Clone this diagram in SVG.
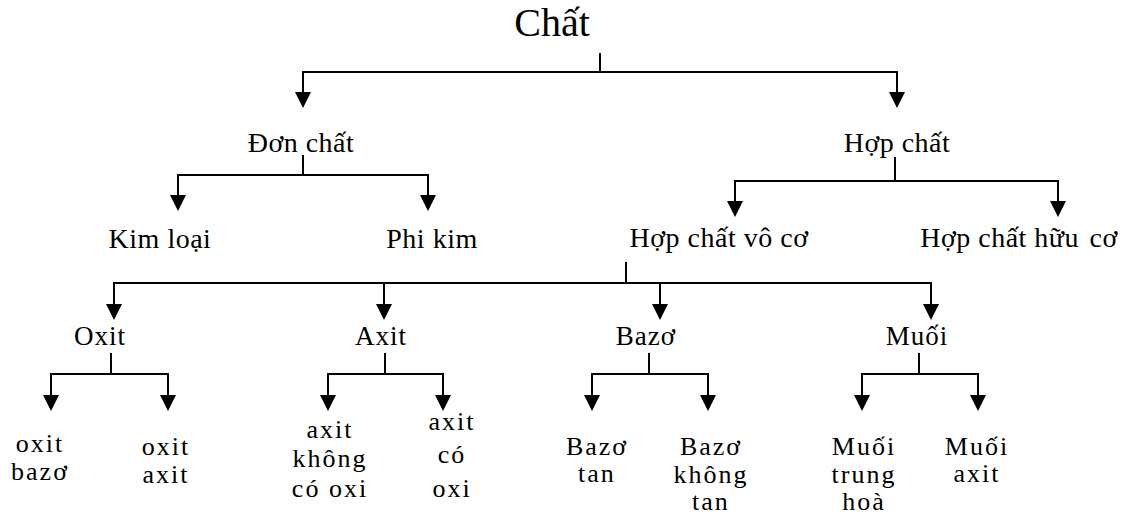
<svg xmlns="http://www.w3.org/2000/svg" width="1123" height="518" viewBox="0 0 1123 518">
  <defs>
    <marker id="arrow" viewBox="0 0 16 16" refX="0" refY="8" markerWidth="16" markerHeight="16" markerUnits="userSpaceOnUse" orient="auto">
      <path d="M0,0 L16,8 L0,16 Z" fill="#000"/>
    </marker>
    <style>
      text { font-family: "Liberation Serif", "Times New Roman", serif; fill: #000; text-anchor: middle; }
      .root { font-size: 40px; }
      .l2 { font-size: 28px; letter-spacing: 0.5px; }
      .l4 { font-size: 27px; letter-spacing: 1px; }
      .leaf { font-size: 26px; letter-spacing: 2px; }
      .wire { fill: none; stroke: #000; stroke-width: 2; }
      .arr { fill: none; stroke: #000; stroke-width: 2; marker-end: url(#arrow); }
    </style>
  </defs>
  <rect width="1123" height="518" fill="#fff"/>

  <!-- connectors: stems, bars and arrowed drops -->
  <g id="connectors">
    <!-- Chất -->
    <path class="wire" d="M600,53 V72 M302,72 H898"/>
    <path class="arr" d="M303,72 V92"/>
    <path class="arr" d="M897,72 V92"/>
    <!-- Đơn chất -->
    <path class="wire" d="M303,155 V175 M177,175 H429"/>
    <path class="arr" d="M178,175 V195"/>
    <path class="arr" d="M428,175 V195"/>
    <!-- Hợp chất -->
    <path class="wire" d="M895,157 V181 M734,181 H1059"/>
    <path class="arr" d="M735,181 V201"/>
    <path class="arr" d="M1058,181 V201"/>
    <!-- Hợp chất vô cơ -->
    <path class="wire" d="M626,262 V283 M113,283 H932"/>
    <path class="arr" d="M114,283 V304"/>
    <path class="arr" d="M384,283 V304"/>
    <path class="arr" d="M660,283 V304"/>
    <path class="arr" d="M931,283 V304"/>
    <!-- Oxit -->
    <path class="wire" d="M111,353 V374 M50,374 H169"/>
    <path class="arr" d="M51,374 V395"/>
    <path class="arr" d="M168,374 V395"/>
    <!-- Axit -->
    <path class="wire" d="M385,353 V374 M327,374 H444"/>
    <path class="arr" d="M328,374 V395"/>
    <path class="arr" d="M443,374 V395"/>
    <!-- Bazơ -->
    <path class="wire" d="M649,353 V374 M591,374 H709"/>
    <path class="arr" d="M592,374 V395"/>
    <path class="arr" d="M708,374 V395"/>
    <!-- Muối -->
    <path class="wire" d="M919,353 V374 M861,374 H979"/>
    <path class="arr" d="M862,374 V395"/>
    <path class="arr" d="M978,374 V395"/>
  </g>

  <g id="chat"><text class="root" x="552" y="36">Chất</text></g>

  <g id="don-chat"><text class="l2" x="301" y="152">Đơn chất</text></g>
  <g id="hop-chat"><text class="l2" x="897" y="152">Hợp chất</text></g>

  <g id="kim-loai"><text class="l2" x="160" y="248">Kim loại</text></g>
  <g id="phi-kim"><text class="l2" x="432" y="248">Phi kim</text></g>
  <g id="hop-chat-vo-co"><text class="l2" x="719" y="247">Hợp chất vô cơ</text></g>
  <g id="hop-chat-huu-co"><text class="l2" x="1019" y="247">Hợp chất hữu <tspan dx="3">cơ</tspan></text></g>

  <g id="oxit"><text class="l4" x="100" y="345">Oxit</text></g>
  <g id="axit"><text class="l4" x="381" y="345">Axit</text></g>
  <g id="bazo"><text class="l4" x="646" y="345">Bazơ</text></g>
  <g id="muoi"><text class="l4" x="917" y="345">Muối</text></g>

  <g id="oxit-bazo">
    <text class="leaf" x="40" y="452">oxit</text>
    <text class="leaf" x="40" y="480">bazơ</text>
  </g>
  <g id="oxit-axit">
    <text class="leaf" x="166" y="455">oxit</text>
    <text class="leaf" x="166" y="483">axit</text>
  </g>
  <g id="axit-khong-co-oxi">
    <text class="leaf" x="330" y="438">axit</text>
    <text class="leaf" x="330" y="467">không</text>
    <text class="leaf" x="330" y="497">có oxi</text>
  </g>
  <g id="axit-co-oxi">
    <text class="leaf" x="452" y="430">axit</text>
    <text class="leaf" x="452" y="463">có</text>
    <text class="leaf" x="452" y="497">oxi</text>
  </g>
  <g id="bazo-tan">
    <text class="leaf" x="597" y="455">Bazơ</text>
    <text class="leaf" x="597" y="482">tan</text>
  </g>
  <g id="bazo-khong-tan">
    <text class="leaf" x="711" y="455">Bazơ</text>
    <text class="leaf" x="711" y="483">không</text>
    <text class="leaf" x="711" y="510">tan</text>
  </g>
  <g id="muoi-trung-hoa">
    <text class="leaf" x="864" y="455">Muối</text>
    <text class="leaf" x="864" y="483">trung</text>
    <text class="leaf" x="864" y="510">hoà</text>
  </g>
  <g id="muoi-axit">
    <text class="leaf" x="977" y="455">Muối</text>
    <text class="leaf" x="977" y="482">axit</text>
  </g>
</svg>
